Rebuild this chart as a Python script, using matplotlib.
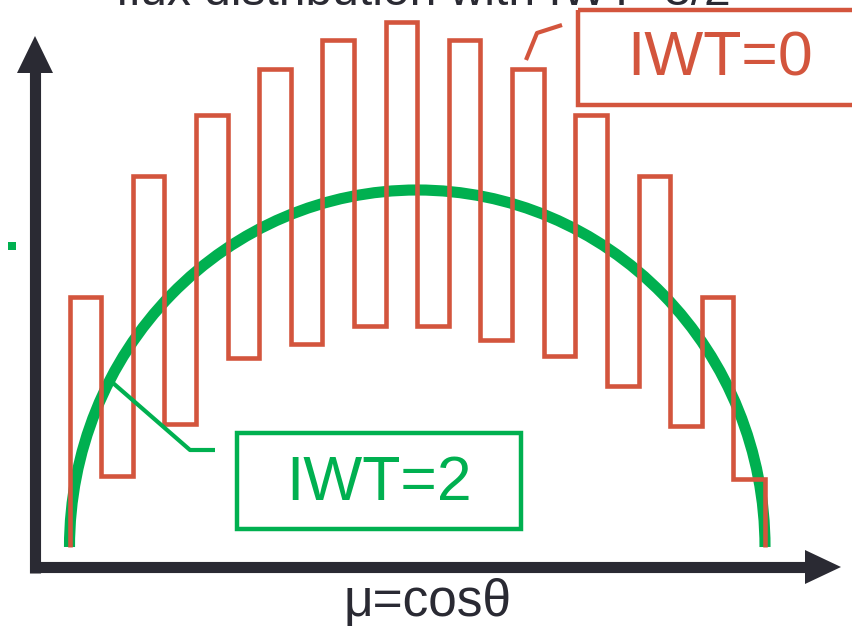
import numpy as np
import matplotlib
matplotlib.use("Agg")
import matplotlib.pyplot as plt
from matplotlib.patches import Arc, Polygon, Rectangle

plt.rcParams["font.family"] = ["Liberation Sans", "DejaVu Sans"]

RED = "#D3553D"
GREEN = "#00B050"
DARK = "#2A2A33"

# flux per cosine bin for IWT=0 (22 equal bins over mu = -1..1)
N_BINS = 22
MU_EDGES = np.linspace(-1.0, 1.0, N_BINS + 1)
IWT0_FLUX = [0.70, 0.20, 1.04, 0.345, 1.21, 0.53, 1.34, 0.57, 1.42, 0.62, 1.47,
             0.62, 1.42, 0.58, 1.34, 0.535, 1.21, 0.45, 1.04, 0.34, 0.70, 0.19]
# IWT=2 reference: smooth semi-ellipse over mu
IWT2_PEAK = 1.0
MU_RANGE = (-1.0, 1.0)

TITLE = "flux distribution with IWT=3/2"
XLABEL = "μ=cosθ"

W, H = 853, 628
fig = plt.figure(figsize=(W / 100, H / 100), dpi=100)

# data axes: mu=-1 at x=69.5 px, mu=1 at x=765 px; flux 0 at y=547 px, 1 at y=190 px
px_per_mu = (765 - 69.5) / 2
px_per_f = 547 - 190
ax = fig.add_axes([0, 0, 1, 1])
ax.set_xlim(-1 - 69.5 / px_per_mu, 1 + (W - 765) / px_per_mu)
ax.set_ylim(-(H - 547) / px_per_f, 547 / px_per_f)
ax.axis("off")

mu_c = (MU_RANGE[0] + MU_RANGE[1]) / 2
arc = Arc((mu_c, 0), MU_RANGE[1] - MU_RANGE[0], 2 * IWT2_PEAK, theta1=0, theta2=180,
          color=GREEN, lw=8, zorder=2)
ax.add_patch(arc)
ax.stairs(IWT0_FLUX, MU_EDGES, baseline=0, color=RED, lw=3.3, zorder=3)

# overlay in pixel coordinates for the drawn axes and call-out boxes
ov = fig.add_axes([0, 0, 1, 1], zorder=5)
ov.set_xlim(0, W)
ov.set_ylim(H, 0)
ov.axis("off")
ov.patch.set_alpha(0)

# axis arrows
ov.plot([35, 35], [573, 66], color=DARK, lw=8, solid_capstyle="butt")
ov.plot([30, 810], [567, 567], color=DARK, lw=8, solid_capstyle="butt")
ov.add_patch(Polygon([[35, 36], [17, 73], [53, 73]], closed=True, color=DARK, lw=0))
ov.add_patch(Polygon([[841, 567], [805, 550], [805, 584]], closed=True, color=DARK, lw=0))

# IWT=2 call-out
ov.plot([113, 190, 215], [383, 450, 450], color=GREEN, lw=3, solid_capstyle="butt")
ov.add_patch(Rectangle((237, 433), 284, 96, fill=False, ec=GREEN, lw=3.2))
ov.text(379, 483, "IWT=2", color=GREEN, fontsize=45, ha="center", va="center")

# IWT=0 call-out
ov.plot([526, 537, 562], [60, 33, 25], color=RED, lw=3, solid_capstyle="butt")
ov.add_patch(Rectangle((578, 10), 320, 95, fill=False, ec=RED, lw=3.2, clip_on=False))
ov.text(720, 59, "IWT=0", color=RED, fontsize=45, ha="center", va="center")

# stray green mark on the left
ov.add_patch(Rectangle((8, 242), 8, 8, color=GREEN, lw=0))

ov.text(428, 603, XLABEL, color=DARK, fontsize=37, ha="center", va="center")
# title sits mostly above the top edge, as in the source slide
fig.text(423 / W, 1 - 5 / H, TITLE, color=DARK, fontsize=34.5, ha="center", va="baseline")

fig.savefig("out.png", dpi=100)
